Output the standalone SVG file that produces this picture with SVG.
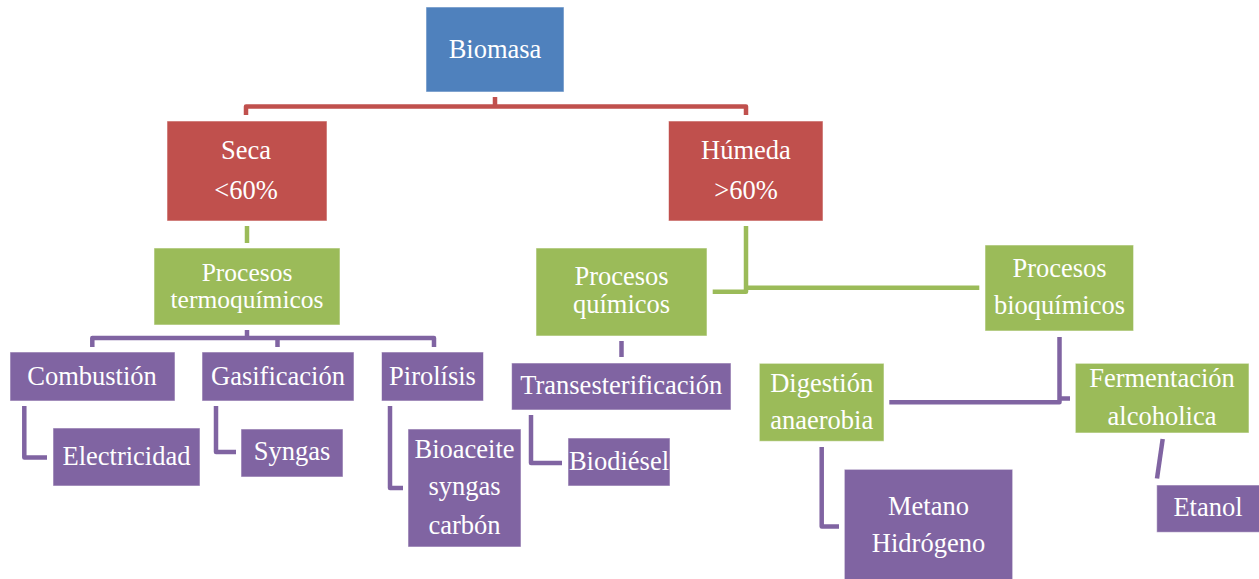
<svg xmlns="http://www.w3.org/2000/svg" width="1259" height="579" viewBox="0 0 1259 579">
  <style>
    .box { stroke: #ffffff; stroke-opacity: 0.55; stroke-width: 1; }
    .blue { fill: #4F81BD; }
    .red { fill: #C0504D; }
    .green { fill: #9BBB59; }
    .purple { fill: #8064A2; }
    .lbl { font-family: "Liberation Serif", "Times New Roman", serif; font-size: 26.5px; fill: #ffffff; text-anchor: middle; }
    .tight { font-size: 25.5px; }
    .ln { fill: none; stroke-width: 4.5; stroke-linejoin: round; }
    .ln-red { stroke: #C0504D; }
    .ln-green { stroke: #9BBB59; }
    .ln-purple { stroke: #8064A2; }
  </style>
  <rect width="1259" height="579" fill="#ffffff"/>

  <g id="connectors">
    <!-- Biomasa to Seca / Húmeda -->
    <path class="ln ln-red" d="M495,97 V106.5 M246,115 V106.5 H746 V115"/>
    <!-- Seca to Procesos termoquímicos -->
    <path class="ln ln-green" d="M247,226 V243"/>
    <!-- Húmeda to Procesos químicos / bioquímicos -->
    <path class="ln ln-green" d="M746,226 V291.7 H712.7 M746,287.7 H979.3"/>
    <!-- Procesos termoquímicos to its three processes -->
    <path class="ln ln-purple" d="M247,330 V338 M92.3,347 V338 H434 V347 M277.5,338 V347"/>
    <!-- Combustión / Gasificación / Pirolísis to products -->
    <path class="ln ln-purple" d="M24.3,406 V457.5 H47"/>
    <path class="ln ln-purple" d="M216,406 V452 H236"/>
    <path class="ln ln-purple" d="M390,406 V488 H403"/>
    <!-- Procesos químicos to Transesterificación to Biodiésel -->
    <path class="ln ln-purple" d="M621.5,341 V357"/>
    <path class="ln ln-purple" d="M531,415 V463 H562"/>
    <!-- Procesos bioquímicos to Digestión / Fermentación -->
    <path class="ln ln-purple" d="M1059.5,337 V402.3 H889.3 M1059.5,398.5 H1070"/>
    <!-- Digestión to Metano -->
    <path class="ln ln-purple" d="M821.7,447 V526.5 H839"/>
    <!-- Fermentación to Etanol -->
    <path class="ln ln-purple" d="M1162.7,439 L1157,478.5"/>
  </g>

  <g id="biomasa">
    <rect class="box blue" x="426" y="7" width="138" height="85"/>
    <text class="lbl" x="495" y="58.3">Biomasa</text>
  </g>

  <g id="seca">
    <rect class="box red" x="167" y="121" width="160" height="100"/>
    <text class="lbl" x="246" y="159.3">Seca</text>
    <text class="lbl" x="246" y="199">&lt;60%</text>
  </g>

  <g id="humeda">
    <rect class="box red" x="668.5" y="121" width="154.5" height="100"/>
    <text class="lbl" x="746" y="159.3">Húmeda</text>
    <text class="lbl" x="746" y="199">&gt;60%</text>
  </g>

  <g id="procesos-termoquimicos">
    <rect class="box green" x="154" y="248" width="186" height="77"/>
    <text class="lbl tight" x="247" y="280.5">Procesos</text>
    <text class="lbl tight" x="247" y="308">termoquímicos</text>
  </g>

  <g id="procesos-quimicos">
    <rect class="box green" x="536" y="248" width="171" height="88"/>
    <text class="lbl" x="621.5" y="285">Procesos</text>
    <text class="lbl" x="621.5" y="313.3">químicos</text>
  </g>

  <g id="procesos-bioquimicos">
    <rect class="box green" x="985" y="245" width="148.6" height="86"/>
    <text class="lbl" x="1059.5" y="276.7">Procesos</text>
    <text class="lbl" x="1059.5" y="314.3">bioquímicos</text>
  </g>

  <g id="combustion">
    <rect class="box purple" x="10" y="352" width="165" height="49"/>
    <text class="lbl" x="92" y="385">Combustión</text>
  </g>

  <g id="gasificacion">
    <rect class="box purple" x="202" y="352" width="152" height="49"/>
    <text class="lbl" x="278" y="385">Gasificación</text>
  </g>

  <g id="pirolisis">
    <rect class="box purple" x="381.5" y="352" width="102" height="49"/>
    <text class="lbl" x="432.5" y="385">Pirolísis</text>
  </g>

  <g id="electricidad">
    <rect class="box purple" x="53" y="428" width="147" height="58"/>
    <text class="lbl" x="126.5" y="465">Electricidad</text>
  </g>

  <g id="syngas">
    <rect class="box purple" x="241" y="429" width="102" height="48"/>
    <text class="lbl" x="292" y="460">Syngas</text>
  </g>

  <g id="bioaceite">
    <rect class="box purple" x="408" y="429" width="113" height="118"/>
    <text class="lbl" x="464.5" y="457.7">Bioaceite</text>
    <text class="lbl" x="464.5" y="495">syngas</text>
    <text class="lbl" x="464.5" y="534">carbón</text>
  </g>

  <g id="transesterificacion">
    <rect class="box purple" x="511.6" y="363" width="219.4" height="47"/>
    <text class="lbl" x="621.3" y="394.3">Transesterificación</text>
  </g>

  <g id="biodiesel">
    <rect class="box purple" x="568" y="438" width="102" height="48"/>
    <text class="lbl" x="619" y="470">Biodiésel</text>
  </g>

  <g id="digestion-anaerobia">
    <rect class="box green" x="759.3" y="363.3" width="124.7" height="78"/>
    <text class="lbl" x="821.7" y="391.7">Digestión</text>
    <text class="lbl" x="821.7" y="429.3">anaerobia</text>
  </g>

  <g id="fermentacion-alcoholica">
    <rect class="box green" x="1075.3" y="363.3" width="173.7" height="69.7"/>
    <text class="lbl" x="1162" y="386.7">Fermentación</text>
    <text class="lbl" x="1162" y="425">alcoholica</text>
  </g>

  <g id="metano-hidrogeno">
    <rect class="box purple" x="844.3" y="469.3" width="168.4" height="115"/>
    <text class="lbl" x="928.5" y="515">Metano</text>
    <text class="lbl" x="928.5" y="551.7">Hidrógeno</text>
  </g>

  <g id="etanol">
    <rect class="box purple" x="1156.7" y="485" width="106" height="47.3"/>
    <text class="lbl" x="1208" y="515.7">Etanol</text>
  </g>
</svg>
